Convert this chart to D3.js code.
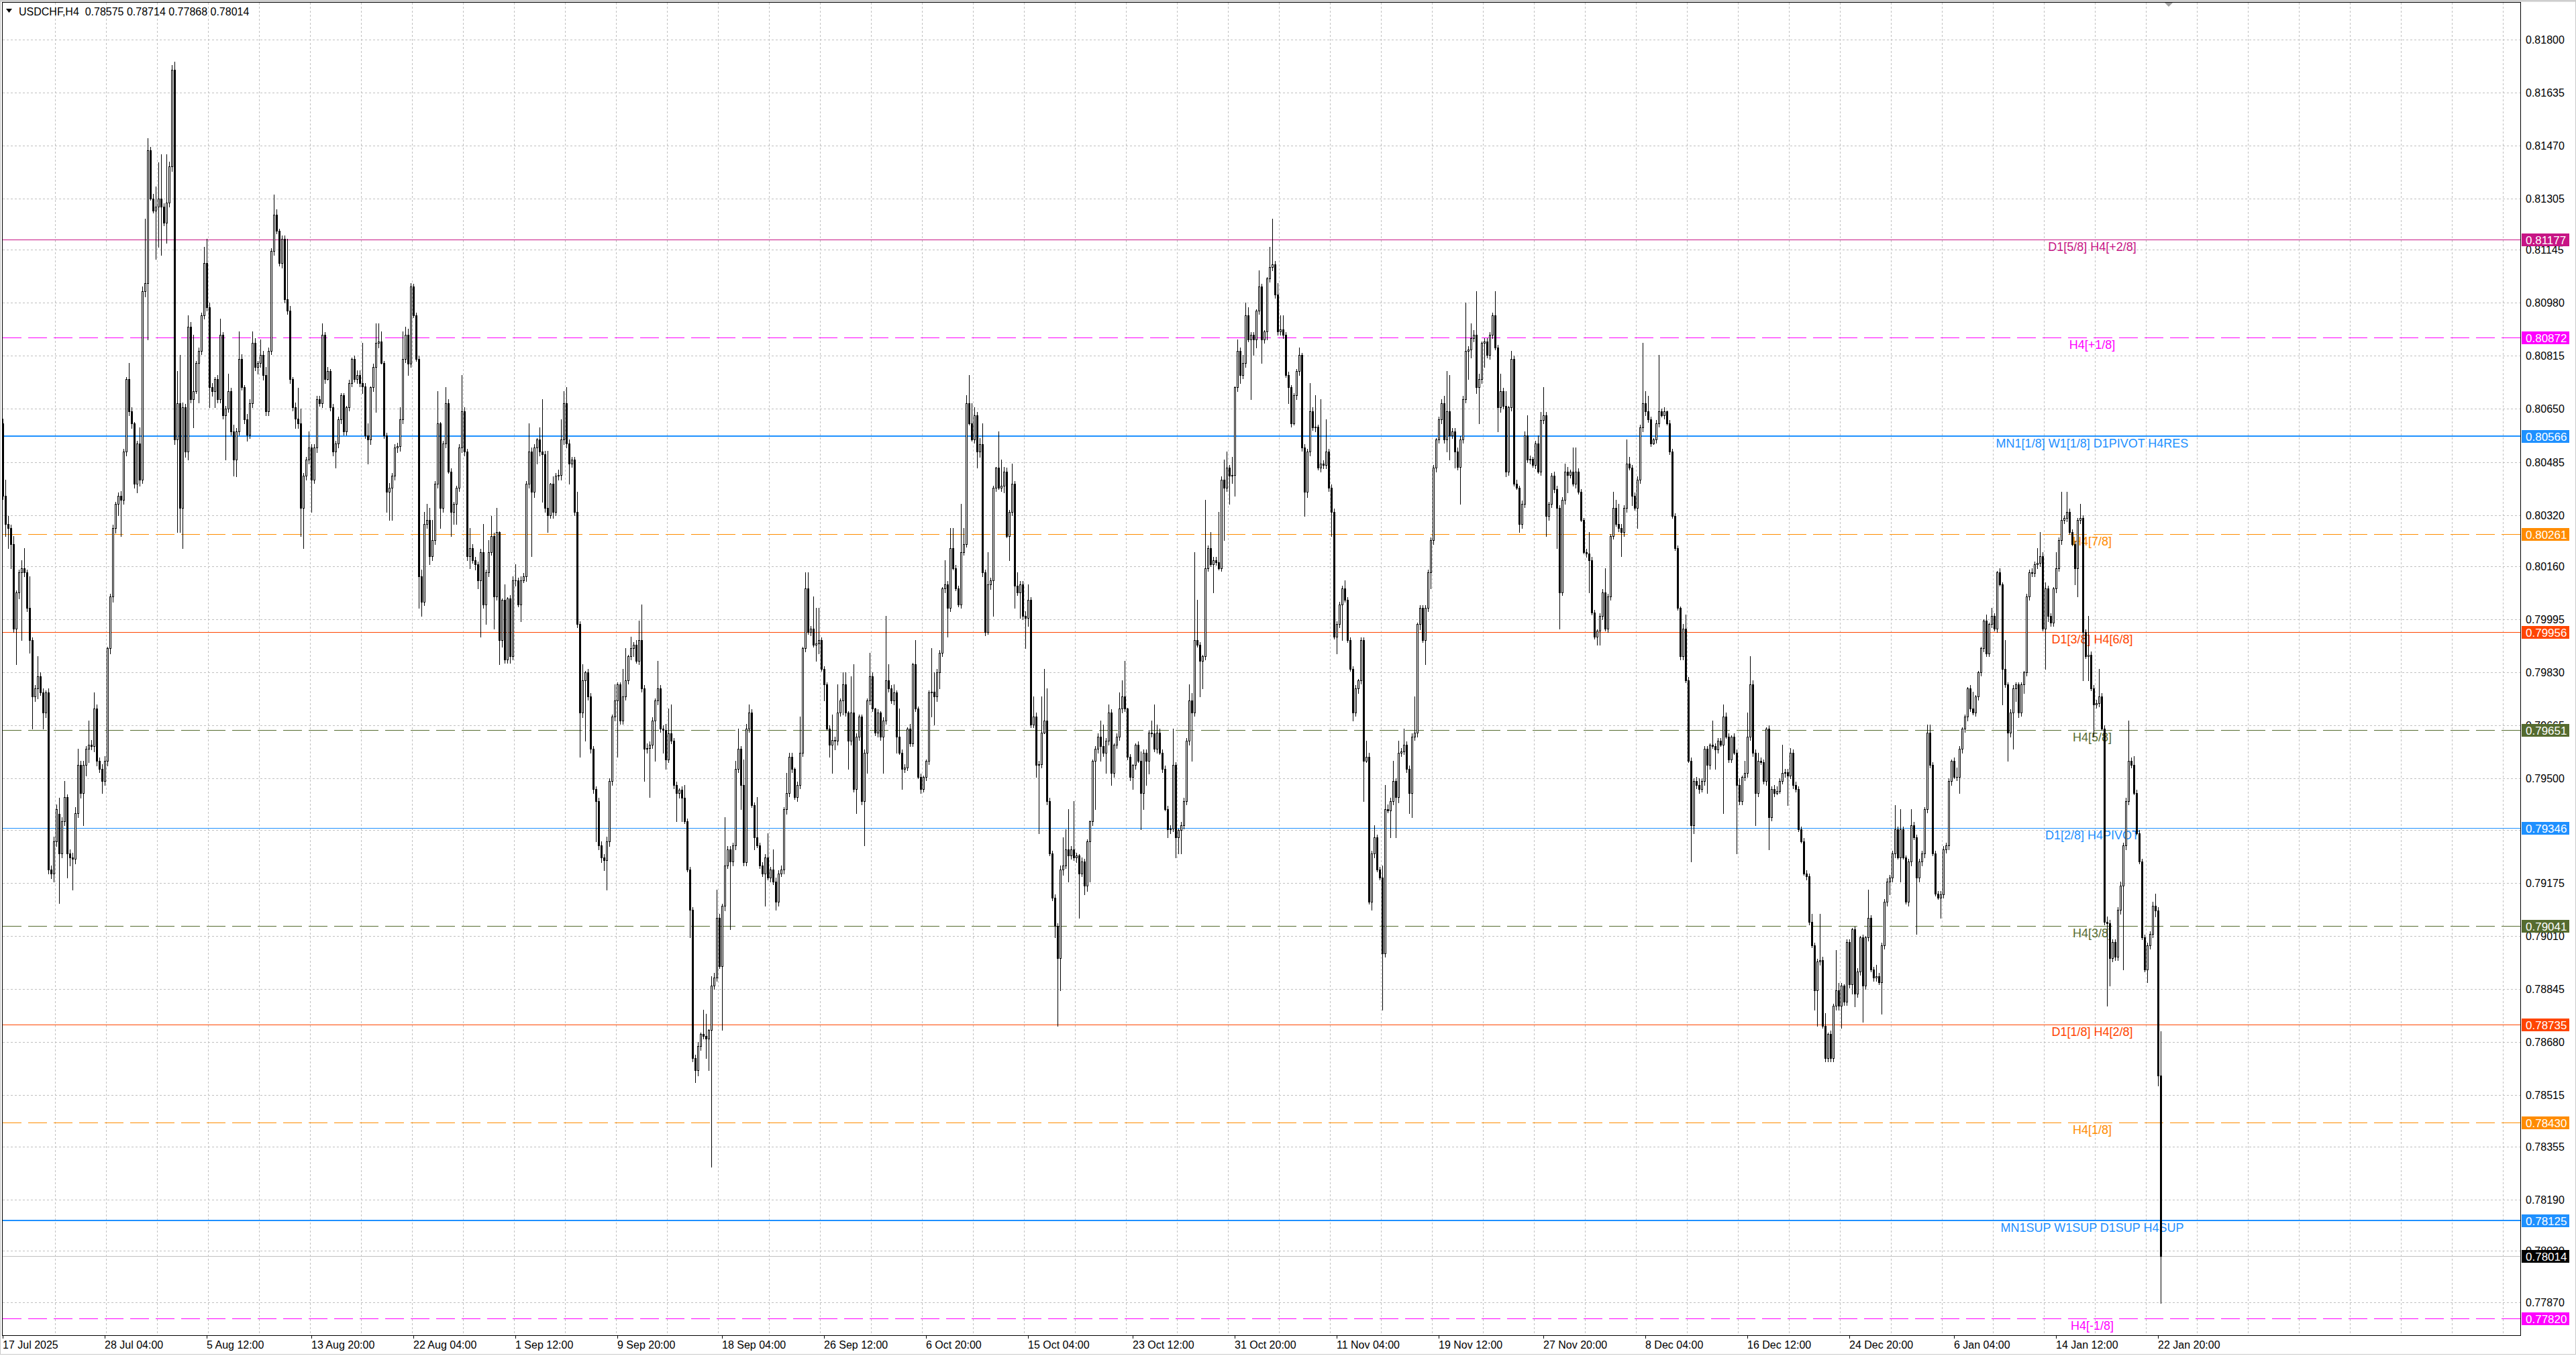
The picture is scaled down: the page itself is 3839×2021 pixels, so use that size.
<!DOCTYPE html>
<html>
<head>
<meta charset="utf-8">
<script src="https://cdn.jsdelivr.net/npm/d3@7"></script>
<style>
html, body { margin: 0; padding: 0; background: #fff; overflow: hidden; }
svg { display: block; }
text { font-family: "Liberation Sans", Arial, sans-serif; }
</style>
</head>
<body>
<svg id="chart"></svg>
<script>
// USDCHF H4 bars, [open, high, low, close] in points (price * 1e5)
let jul = [
[80605,80620,80370,80380],[80380,80430,80255,80292],[80292,80317,80217,80280],[80280,80290,80155,80230],[80230,80255,79955,79967],
[79967,80085,79855,80080],[80080,80150,80060,80142],[80142,80180,79930,80155],[80155,80217,80130,80142],[80142,80150,80020,80030],
[80030,80130,79892,79930],[79930,79940,79655,79755],[79755,79790,79740,79780],[79780,79880,79750,79817],[79817,79830,79760,79767],
[79767,79780,79655,79705],[79705,79775,79690,79767],[79767,79780,79205,79217],[79217,79230,79190,79205],[79205,79320,79180,79305],
[79305,79420,79290,79405],[79390,79440,79112,79267],[79267,79380,79255,79367],[79367,79492,79355,79442],[79442,79450,79192,79267],
[79267,79280,79230,79255],[79255,79270,79155,79250],[79250,79410,79235,79392],[79392,79592,79380,79542],[79542,79555,79440,79455],
[79455,79555,79355,79542],[79542,79600,79510,79592],[79592,79680,79550,79605],[79605,79620,79590,79600],[79600,79767,79585,79717],
[79717,79730,79540,79555],[79555,79565,79520,79530],[79530,79545,79455,79492],[79492,79570,79480,79555],[79555,79910,79540,79905],
[79905,80075,79890,80067],[80067,80290,80050,80280],[80280,80360,80265,80355],[80355,80390,80320,80380],[80380,80395,80255,80367],
[80367,80525,80355,80517],[80517,80750,80505,80742],[80742,80792,80630,80642],[80642,80655,80590,80605],[80605,80610,80405,80417],
[80417,80550,80390,80542],[80542,80592,80410,80430],[80430,81030,80420,81017],[81017,81242,81000,81042],[81042,81492,80867,81455],
[81455,81465,81300,81305],[81305,81320,81260,81267],[81267,81342,81117,81280],[81280,81417,81155,81305],[81305,81442,81130,81280],
[81280,81290,81220,81230],[81230,81442,81167,81292]
]
let aug = [
[81292,81420,81280,81405],[81405,81720,81390,81705],[81705,81730,80540,80555],[80555,80767,80267,80667],[80667,80817,80267,80342],
[80342,80670,80217,80655],[80655,80665,80500,80517],[80517,80942,80492,80905],[80905,80920,80670,80680],[80680,80880,80592,80705],
[80705,80800,80700,80792],[80792,80840,80670,80830],[80830,80950,80820,80942],[80942,81155,80930,81105],[81105,81180,80955,80967],
[80967,80980,80655,80717],[80717,80730,80690,80705],[80705,80750,80655,80742],[80742,80755,80670,80680],[80680,80930,80670,80880],
[80880,80890,80620,80630],[80630,80660,80492,80650],[80650,80760,80640,80705],[80705,80715,80570,80580],[80580,80600,80442,80492],
[80492,80590,80440,80580],[80580,80892,80570,80805],[80805,80820,80710,80717],[80717,80725,80605,80617],[80617,80635,80550,80570],
[80570,80680,80560,80667],[80667,80892,80655,80855],[80855,80870,80770,80780],[80780,80800,80760,80792],[80792,80867,80780,80817],
[80817,80830,80740,80755],[80755,80780,80630,80642],[80642,80840,80630,80830],[80830,81150,80820,81142],[81142,81317,81130,81255],
[81255,81270,81195,81205],[81205,81210,81095,81105],[81105,81190,81090,81180],[81180,81190,80980,80992],[80992,81180,80945,80955],
[80955,80970,80730,80742],[80742,80750,80645,80655],[80655,80670,80590,80620],[80620,80715,80590,80605],[80605,80650,80255,80342],
[80342,80450,80217,80442],[80442,80500,80430,80492],[80492,80580,80480,80530],[80530,80540,80330,80430],[80430,80540,80420,80530],
[80530,80690,80515,80680],[80680,80690,80660,80667],[80667,80917,80655,80880],[80880,80890,80730,80742],[80742,80780,80740,80767],
[80767,80775,80645,80655],[80655,80665,80505,80517],[80517,80550,80467,80542],[80542,80625,80530,80617],[80617,80700,80605,80692],
[80692,80700,80570,80580],[80580,80660,80570,80655],[80655,80740,80645,80730],[80730,80810,80720,80805],[80805,80815,80735,80742],
[80742,80770,80730,80755],[80755,80770,80720,80730],[80730,80855,80700,80720],[80720,80730,80560,80567],[80567,80605,80480,80555],
[80555,80720,80540,80717],[80717,80790,80705,80780],[80780,80917,80640,80855],[80855,80917,80840,80860],[80860,80892,80790,80792],
[80792,80800,80560,80567],[80567,80575,80330,80392],[80392,80420,80305,80405],[80405,80450,80305,80442],[80442,80540,80430,80530],
[80530,80545,80515,80535],[80535,80655,80520,80617],[80617,80892,80605,80805],[80805,80905,80795,80880],[80880,80900,80755,80790],
[80790,81042,80780,81030],[81030,81040,80935,80942],[80942,80950,80800,80805],[80805,80815,80030,80130],[80130,80150,80005,80050],
[80050,80330,80040,80292],[80292,80355,80280,80305],[80305,80342,80167,80192],[80192,80305,80180,80242],[80242,80425,80230,80417],
[80417,80705,80405,80605],[80605,80610,80280,80342],[80342,80550,80330,80542],[80542,80717,80530,80667],[80667,80680,80450,80455],
[80455,80465,80255,80330],[80330,80360,80292,80355],[80355,80410,80292,80405],[80405,80540,80395,80530],[80530,80755,80515,80642],
[80642,80655,80505,80517],[80517,80525,80180,80192],[80192,80280,80155,80217],[80217,80230,80170,80180],[80180,80190,80150,80167],
[80167,80175,80092,80117],[80117,80215,79942,80205],[80205,80292,80030,80042],[80042,80150,79980,80142],[80142,80242,80130,80205],
[80205,80317,80195,80255],[80255,80265,79967,80067],[80067,80342,80055,80267],[80267,80270,79855,79930],[79930,80060,79910,80055],
[80055,80105,79860,79870]
]
let sep = [
[79870,80065,79860,80060],[80060,80070,79860,79880],[79880,80130,79870,80117],[80117,80167,80100,80117],[80117,80125,80035,80042],
[80042,80130,79990,80117],[80117,80140,80110,80130],[80130,80425,80115,80417],[80417,80605,80405,80517],[80517,80530,80192,80392],
[80392,80540,80375,80530],[80530,80560,80480,80555],[80555,80592,80505,80517],[80517,80680,80360,80510],[80510,80520,80330,80342],
[80342,80520,80267,80320],[80320,80420,80310,80417],[80417,80440,80310,80330],[80330,80450,80320,80442],[80442,80460,80430,80445],
[80445,80617,80430,80555],[80555,80705,80540,80667],[80667,80717,80530,80542],[80542,80555,80417,80480],[80480,80500,80470,80492],
[80492,80500,80320,80330],[80330,80392,79970,79980],[79980,79990,79567,79705],[79705,79855,79690,79805],[79805,79835,79617,79830],
[79830,79840,79745,79755],[79755,79765,79580,79592],[79592,79600,79455,79467],[79467,79475,79305,79430],[79430,79440,79280,79292],
[79292,79305,79240,79255],[79255,79265,79215,79245],[79245,79320,79155,79305],[79305,79500,79290,79492],[79492,79700,79480,79692],
[79692,79792,79680,79742],[79742,79800,79567,79792],[79792,79800,79670,79680],[79680,79842,79670,79755],[79755,79905,79745,79805],
[79805,79885,79795,79880],[79880,79942,79870,79905],[79905,79925,79880,79917],[79917,79930,79860,79867],[79867,79992,79855,79930],
[79930,80042,79770,79780],[79780,79790,79492,79592],[79592,79610,79580,79595],[79595,79615,79442,79605],[79605,79690,79595,79680],
[79680,79750,79555,79742],[79742,79867,79730,79780],[79780,79790,79645,79655],[79655,79665,79580,79650],[79650,79670,79530,79560],
[79560,79717,79550,79640],[79640,79730,79610,79617],[79617,79625,79470,79480],[79480,79490,79367,79455],[79455,79470,79440,79465],
[79465,79475,79367,79440],[79440,79480,79360,79367],[79367,79375,79210,79217],[79217,79225,79005,79092],[79092,79100,78620,78630],
[78630,78640,78555,78592],[78592,78680,78575,78667],[78667,78710,78655,78705],[78705,78780,78690,78700],[78700,78767,78630,78690],
[78690,78720,78592,78717],[78717,78885,78292,78855],[78855,78895,78845,78880],[78880,79155,78870,79067],[79067,79080,78910,78917],
[78917,79110,78717,79105],[79105,79380,79090,79230],[79230,79290,79220,79280],[79280,79290,79030,79242],[79242,79300,79230,79292],
[79292,79555,79280,79530],[79530,79655,79520,79592],[79592,79600,79405,79480],[79480,79560,79230,79240],[79240,79670,79230,79655],
[79655,79730,79645,79705],[79705,79715,79410,79417],[79417,79425,79280,79317],[79317,79442,79285,79292],[79292,79300,79220,79230],
[79230,79240,79195,79205],[79205,79265,79105,79255],[79255,79330,79185,79192],[79192,79225,79180,79217],[79217,79280,79170,79180],
[79180,79192,79092,79117],[79117,79215,79105,79205],[79205,79230,79195,79217],[79217,79410,79205,79405],[79405,79517,79390,79455],
[79455,79580,79445,79567],[79567,79580,79520,79530],[79530,79535,79435,79442],[79442,79490,79430,79480],[79480,79692,79470,79580],
[79580,79910,79570,79905],[79905,80142,79895,80092],[80092,80142,79950,79955],[79955,79975,79945,79967],[79967,80067,79910,79917],
[79917,80030,79867,79920],[79920,80030,79890,79930],[79930,79940,79835,79842],[79842,79850,79742,79792],[79792,79800,79650,79655],
[79655,79665,79567,79605],[79605,79700,79517,79620],[79620,79630,79590,79617],[79617,79792,79605,79705],[79705,79750,79695,79742],
[79742,79830,79700,79792],[79792,79830,79695,79705],[79705,79710,79530,79617],[79617,79817,79605,79705],[79705,79855,79460,79467],
[79467,79640,79392,79630],[79630,79700,79620,79692]
]
let oct = [
[79692,79700,79420,79430],[79430,79590,79292,79580],[79580,79750,79517,79742],[79742,79892,79730,79817],[79817,79830,79710,79717],
[79717,79720,79635,79642],[79642,79715,79630,79705],[79705,79710,79620,79630],[79630,79690,79517,79680],[79680,80005,79670,79805],
[79805,79855,79770,79780],[79780,79790,79735,79742],[79742,79792,79730,79767],[79767,79775,79580,79630],[79630,79717,79575,79580],
[79580,79590,79467,79530],[79530,79545,79520,79535],[79535,79660,79525,79655],[79655,79670,79600,79610],[79610,79860,79600,79855],
[79855,79930,79710,79717],[79717,79725,79500,79505],[79505,79515,79455,79467],[79467,79510,79460,79505],[79505,79560,79495,79555],
[79555,79775,79545,79767],[79767,79905,79692,79770],[79770,79830,79667,79755],[79755,79840,79740,79830],[79830,79900,79780,79892],
[79892,80095,79880,80092],[80092,80180,80080,80105],[80105,80115,79942,80030],[80030,80280,80020,80217],[80217,80280,80150,80155],
[80155,80165,80085,80092],[80092,80100,80035,80042],[80042,80355,80030,80205],[80205,80280,80195,80230],[80230,80692,80220,80667],
[80667,80755,80600,80605],[80605,80667,80550,80555],[80555,80655,80545,80630],[80630,80640,80467,80517],[80517,80560,80500,80540],
[80540,80605,80130,80142],[80142,80150,79945,79955],[79955,80205,79950,80105],[80105,80125,80090,80117],[80117,80410,80005,80405],
[80405,80470,80395,80467],[80467,80580,80400,80405],[80405,80492,80395,80410],[80410,80470,80390,80455],[80455,80467,80250,80255],
[80255,80335,80180,80330],[80330,80480,80320,80417],[80417,80425,80030,80100],[80100,80142,80070,80080],[80080,80115,80000,80105],
[80105,80115,79995,80005],[80005,80020,79905,80000],[80000,80105,79975,80055],[80055,80065,79660,79667],[79667,79755,79660,79692],
[79692,79705,79505,79542],[79542,79555,79330,79545],[79545,79755,79535,79642],[79642,79842,79640,79680],[79680,79780,79420,79430],
[79430,79440,79260,79267],[79267,79275,79120,79130],[79130,79140,79005,79042],[79042,79050,78730,78942],[78942,79230,78842,79217],
[79217,79317,79200,79230],[79230,79342,79220,79280],[79280,79405,79180,79260],[79260,79290,79250,79280],[79280,79430,79245,79255],
[79255,79270,79240,79260],[79260,79265,79067,79205],[79205,79255,79195,79242],[79242,79250,79140,79167],[79167,79310,79150,79305],
[79305,79370,79180,79367],[79367,79560,79355,79555],[79555,79600,79405,79592],[79592,79640,79580,79630],[79630,79680,79555,79600],
[79600,79667,79570,79580],[79580,79625,79517,79617],[79617,79730,79605,79705],[79705,79715,79480,79517],[79517,79610,79505,79605],
[79605,79640,79595,79630],[79630,79767,79620,79717],[79717,79805,79705,79755],[79755,79867,79710,79717],[79717,79720,79560,79567],
[79567,79575,79495,79505],[79505,79545,79467,79542],[79542,79610,79530,79605],[79605,79615,79550,79555],[79555,79585,79342,79455],
[79455,79590,79405,79580],[79580,79590,79480,79555],[79555,79650,79515,79642],[79642,79680,79630,79640],[79640,79730,79585,79592],
[79592,79667,79580,79642],[79642,79655,79575,79580],[79580,79590,79520,79530],[79530,79540,79400,79405],[79405,79415,79317,79342],
[79342,79355,79330,79345],[79345,79655,79335,79542],[79542,79550,79255,79317],[79317,79345,79267,79340],[79340,79365,79267,79355],
[79355,79440,79345,79430],[79430,79625,79420,79617],[79617,79792,79605,79742],[79742,79765,79555,79705],[79705,80205,79695,79930],
[79930,80055,79910,79917],[79917,79925,79755,79867],[79867,79885,79780,79880],[79880,80367,79870,80155],[80155,80225,80145,80217],
[80217,80267,80160,80167],[80167,80190,80080,80180],[80180,80190,80165,80172],[80172,80330,80150,80155],[80155,80440,80145,80430],
[80430,80492,80242,80405],[80405,80517,80395,80467],[80467,80475,80355,80442]
]
let nov = [
[80442,80500,80420,80445],[80445,80720,80380,80717],[80717,80867,80705,80830],[80830,80840,80730,80755],[80755,80817,80745,80792],
[80792,80980,80780,80942],[80942,80967,80860,80867],[80867,80890,80680,80880],[80880,80890,80817,80867],[80867,80960,80840,80955],
[80955,81080,80945,81030],[81030,81040,80792,80867],[80867,80895,80855,80892],[80892,81060,80867,81055],[81055,81155,81045,81092],
[81092,81242,81080,81100],[81100,81110,80995,81005],[81005,81042,80880,80892],[80892,80942,80880,80897],[80897,80942,80870,80880],
[80880,80890,80750,80755],[80755,80765,80667,80717],[80717,80725,80595,80605],[80605,80700,80600,80692],[80692,80775,80680,80767],
[80767,80842,80755,80817],[80817,80825,80520,80530],[80530,80540,80317,80392],[80392,80525,80375,80517],[80517,80730,80505,80642],
[80642,80655,80585,80592],[80592,80692,80580,80595],[80595,80600,80460,80467],[80467,80680,80455,80480],[80480,80490,80465,80475],
[80475,80617,80465,80517],[80517,80525,80395,80405],[80405,80415,80255,80330],[80330,80340,79935,79942],[79942,79990,79890,79980],
[79980,80050,79970,80042],[80042,80100,79930,80092],[80092,80117,80050,80055],[80055,80065,79925,79930],[79930,79940,79835,79842],
[79842,79850,79680,79705],[79705,79790,79695,79780],[79780,79810,79765,79805],[79805,79940,79795,79930],[79930,79940,79430,79555],
[79555,79617,79550,79567],[79567,79580,79110,79117],[79117,79275,79092,79267],[79267,79355,79255,79317],[79317,79325,79210,79217],
[79217,79225,79185,79192],[79192,79230,78780,78955],[78955,79480,78945,79405],[79405,79420,79395,79400],[79400,79440,79317,79430],
[79430,79555,79420,79492],[79492,79500,79317,79442],[79442,79617,79425,79580],[79580,79595,79570,79585],[79585,79655,79575,79605],
[79605,79615,79520,79530],[79530,79540,79392,79455],[79455,79640,79380,79630],[79630,79755,79620,79642],[79642,79985,79630,79980],
[79980,80040,79965,80030],[80030,80040,79925,79930],[79930,80040,79855,80030],[80030,80150,80020,80142],[80142,80250,80092,80242],
[80242,80475,80230,80467],[80467,80560,80455,80555],[80555,80625,80545,80617],[80617,80680,80605,80667],[80667,80690,80545,80555],
[80555,80767,80517,80642],[80642,80755,80492,80567],[80567,80590,80560,80580],[80580,80590,80467,80517],[80517,80530,80460,80470],
[80470,80565,80355,80555],[80555,80690,80545,80680],[80680,80980,80670,80830],[80830,80845,80742,80835],[80835,80917,80810,80870],
[80870,80895,80860,80880],[80880,81017,80700,80717],[80717,80760,80605,80742],[80742,80860,80730,80855],[80855,80870,80780,80860],
[80860,80870,80810,80817],[80817,80890,80805,80880],[80880,80950,80870,80942],[80942,81017,80835,80842],[80842,80850,80580,80655],
[80655,80760,80640,80705],[80705,80715,80650,80660],[80660,80705,80440,80455],[80455,80660,80445,80655],[80655,80830,80645,80805],
[80805,80815,80410,80417],[80417,80430,80400,80405],[80405,80410,80267,80292],[80292,80365,80280,80355],[80355,80580,80345,80567],
[80567,80630,80485,80492],[80492,80505,80480,80495],[80495,80500,80470,80475],[80475,80550,80465,80542],[80542,80567,80450,80455],
[80455,80640,80445,80615],[80615,80717,80605,80630],[80630,80640,80255,80317],[80317,80360,80305,80355],[80355,80450,80345,80442]
]
let dec = [
[80442,80455,80390,80400],[80400,80410,80217,80342],[80342,80350,79967,80080],[80080,80375,80070,80367],[80367,80480,80355,80455],
[80455,80470,80390,80445],[80445,80460,80435,80455],[80455,80530,80410,80417],[80417,80530,80405,80455],[80455,80465,80385,80392],
[80392,80400,80300,80305],[80305,80310,80200,80205],[80205,80215,80190,80200],[80200,80267,80080,80180],[80180,80190,80010,80017],
[80017,80025,79935,79942],[79942,79965,79917,79960],[79960,80015,79917,80005],[80005,80090,79995,80080],[80080,80155,79960,79967],
[79967,80075,79955,80067],[80067,80260,80055,80255],[80255,80392,80245,80342],[80342,80367,80285,80292],[80292,80355,80270,80280],
[80280,80292,80192,80267],[80267,80350,80255,80342],[80342,80555,80330,80480],[80480,80500,80460,80467],[80467,80475,80350,80380],
[80380,80390,80335,80342],[80342,80440,80280,80430],[80430,80600,80420,80592],[80592,80855,80580,80667],[80667,80705,80630,80642],
[80642,80690,80610,80617],[80617,80625,80535,80542],[80542,80560,80540,80555],[80555,80615,80545,80605],[80605,80817,80595,80642],
[80642,80650,80625,80630],[80630,80655,80620,80642],[80642,80645,80600,80605],[80605,80615,80510,80517],[80517,80525,80310,80317],
[80317,80325,80210,80217],[80217,80225,80025,80030],[80030,80035,79870,79880],[79880,79980,79870,79967],[79967,80010,79800,79805],
[79805,79815,79550,79555],[79555,79565,79242,79355],[79355,79500,79330,79492],[79492,79505,79470,79480],[79480,79500,79455,79467],
[79467,79500,79460,79492],[79492,79600,79480,79592],[79592,79600,79455,79542],[79542,79610,79530,79605],[79605,79680,79595,79600],
[79600,79610,79530,79590],[79590,79625,79580,79617],[79617,79625,79600,79605],[79605,79730,79392,79692],[79692,79705,79625,79630],
[79630,79640,79550,79560],[79560,79635,79550,79630],[79630,79640,79575,79580],[79580,79590,79267,79480],[79480,79500,79420,79430],
[79430,79510,79420,79505],[79505,79555,79495,79517],[79517,79705,79505,79630],[79630,79880,79620,79792],[79792,79805,79570,79580],
[79580,79590,79355,79455],[79455,79580,79445,79555],[79555,79565,79545,79550],[79550,79560,79485,79492],[79492,79660,79480,79655],
[79655,79665,79280,79380],[79380,79475,79370,79467],[79467,79480,79445,79455],[79455,79475,79450,79462],[79462,79500,79455,79492],
[79492,79605,79485,79517],[79517,79530,79505,79520],[79520,79530,79417,79510],[79510,79595,79500,79580],[79580,79590,79470,79480],
[79480,79490,79460,79467],[79467,79475,79335,79342],[79342,79350,79300,79305],[79305,79315,79200,79205],[79205,79215,79185,79195],
[79195,79205,79045,79055],[79055,79080,78975,78980],[78980,78990,78780,78842],[78842,78940,78730,78930],[78930,79080,78920,78935],
[78935,78945,78725,78730],[78730,78770,78620,78630],[78630,78710,78620,78705],[78705,78715,78620,78630],[78630,78800,78620,78792],
[78792,78967,78780,78842],[78842,78865,78780,78792],[78792,78865,78725,78855],[78855,78860,78795,78805],[78805,79000,78795,78992],
[78992,79000,78850,78860],[78860,79035,78830,79030],[79030,79040,78790,78830],[78830,78910,78820,78900],[78900,79010,78890,79005],
[79005,79015,78742,78855],[78855,79010,78845,79005],[79005,79155,78995,79067],[79067,79075,78900,78905],[78905,78915,78870,78880],
[78880,78920,78870,78885],[78885,78895,78860,78867],[78867,78990,78767,78980],[78980,79125,78970,79117],[79117,79190,79105,79180],
[79180,79200,79140,79192],[79192,79275,79180,79267],[79267,79417,79255,79342],[79342,79350,79250,79255],[79255,79405,79180,79342],
[79342,79350,79250,79255],[79255,79260,79110,79117]
]
let jan = [
[79117,79250,79105,79242],[79242,79405,79230,79355],[79355,79365,79310,79317],[79317,79325,79017,79192],[79192,79250,79180,79242],
[79242,79275,79230,79267],[79267,79410,79255,79405],[79405,79667,79395,79642],[79642,79667,79535,79542],[79542,79550,79260,79267],
[79267,79275,79135,79142],[79142,79150,79125,79130],[79130,79150,79067,79140],[79140,79290,79130,79280],[79280,79300,79270,79292],
[79292,79500,79280,79492],[79492,79560,79480,79555],[79555,79565,79500,79505],[79505,79535,79495,79505],[79505,79600,79455,79592],
[79592,79660,79580,79655],[79655,79700,79645,79692],[79692,79785,79680,79780],[79780,79790,79710,79717],[79717,79770,79700,79705],
[79705,79760,79695,79755],[79755,79835,79745,79830],[79830,79910,79820,79905],[79905,79995,79895,79992],[79992,80010,79880,79890],
[79890,79985,79880,79980],[79980,80030,79970,80005],[80005,80015,79960,79967],[79967,80145,79955,80142],[80142,80155,80100,80105],
[80105,80110,79730,79842],[79842,79930,79785,79792],[79792,79800,79555,79642],[79642,79715,79630,79705],[79705,79790,79592,79780],
[79780,79800,79740,79792],[79792,79800,79690,79705],[79705,79800,79695,79792],[79792,79835,79765,79830],[79830,80075,79820,80067],
[80067,80150,80055,80142],[80142,80155,80130,80140],[80140,80175,80130,80167],[80167,80217,80155,80170],[80170,80267,80160,80192],
[80192,80205,79960,79967],[79967,80110,79842,80092],[80092,80100,79990,80005],[80005,80015,79975,79985],[79985,80095,79975,80092],
[80092,80205,80080,80155],[80155,80250,80145,80242],[80242,80392,80230,80305],[80305,80320,80295,80310],[80310,80392,80300,80330],
[80330,80340,80260,80267],[80267,80275,80225,80230],[80230,80240,80105,80155],[80155,80310,80067,80305],[80305,80355,80295,80310],
[80310,80320,79805,79955],[79955,79965,79875,79880],[79880,80005,79805,79885],[79885,79895,79775,79780],[79780,79790,79630,79730],
[79730,79745,79720,79735],[79735,79842,79725,79755],[79755,79765,79650,79655],[79655,79665,79045,79055],[79055,79070,78792,79050],
[79050,79060,78855,78942],[78942,79000,78930,78992],[78992,79000,78935,78945],[78945,79100,78935,79092],[79092,79180,79080,79167],
[79167,79300,78905,79292],[79292,79440,79280,79430],[79430,79680,79420,79555],[79555,79565,79535,79542],[79542,79570,79450,79455],
[79455,79465,79325,79330],[79330,79340,79235,79242],[79242,79250,79000,79005],[79005,79015,78900,78905],[78905,78990,78867,78980],
[78980,79025,78970,79017],[79017,79117,79005,79105],[79105,79142,79070,79090],[79090,79100,78544,78575],[78575,78714,77868,78014]
]

let priceTicks = [0.818, 0.81635, 0.8147, 0.81305, 0.81145, 0.8098, 0.80815, 0.8065, 0.80485, 0.8032, 0.8016,
    0.79995, 0.7983, 0.79665, 0.795, 0.7934, 0.79175, 0.7901, 0.78845, 0.7868, 0.78515, 0.78355, 0.7819, 0.7803, 0.7787]
let dateLabels = ['17 Jul 2025', '28 Jul 04:00', '5 Aug 12:00', '13 Aug 20:00', '22 Aug 04:00', '1 Sep 12:00', '9 Sep 20:00',
    '18 Sep 04:00', '26 Sep 12:00', '6 Oct 20:00', '15 Oct 04:00', '23 Oct 12:00', '31 Oct 20:00', '11 Nov 04:00',
    '19 Nov 12:00', '27 Nov 20:00', '8 Dec 04:00', '16 Dec 12:00', '24 Dec 20:00', '6 Jan 04:00', '14 Jan 12:00', '22 Jan 20:00']
let dateBars = [0, 38, 76, 115, 153, 191, 229, 268, 306, 344, 382, 421, 459, 497, 535, 574, 612, 650, 688, 727, 765, 803]
let levelPrices = [0.81177, 0.80872, 0.80566, 0.80261, 0.79956, 0.79651, 0.79346, 0.79041, 0.78735, 0.7843, 0.78125, 0.7782]
let levelNames = ['D1[5/8] H4[+2/8]', 'H4[+1/8]', 'MN1[1/8] W1[1/8] D1PIVOT H4RES', 'H4[7/8]', 'D1[3/8] H4[6/8]', 'H4[5/8]',
    'D1[2/8] H4PIVOT', 'H4[3/8]', 'D1[1/8] H4[2/8]', 'H4[1/8]', 'MN1SUP W1SUP D1SUP H4SUP', 'H4[-1/8]']
let bidPrice = 0.78014
let headerText = 'USDCHF,H4  0.78575 0.78714 0.77868 0.78014'

// look of each level line, same order as levelPrices
let levelPaint = [
    { color: '#C71585', dash: null, w: 1 },
    { color: '#FF00FF', dash: '28,10', w: 1 },
    { color: '#1E90FF', dash: null, w: 2 },
    { color: '#FF8C00', dash: '28,10', w: 1 },
    { color: '#FF4500', dash: null, w: 1 },
    { color: '#556B2F', dash: '28,10', w: 1 },
    { color: '#1E90FF', dash: null, w: 1 },
    { color: '#556B2F', dash: '28,10', w: 1 },
    { color: '#FF4500', dash: null, w: 1 },
    { color: '#FF8C00', dash: '28,10', w: 1 },
    { color: '#1E90FF', dash: null, w: 2 },
    { color: '#FF00FF', dash: '28,10', w: 1 }
]

let width = 3839
let height = 2021
let plotLeft = 4, plotRight = 3756, plotTop = 4, plotBottom = 1990
let barStep = 4
let gridStep = 19
let labelX = plotRight - 638

let bars = [].concat(jul, aug, sep, oct, nov, dec, jan).map(b => b.map(v => v / 1e5))

let svg = d3.select('#chart')
    .attr('width', width)
    .attr('height', height)
    .attr('viewBox', [0, 0, width, height])

let x = d3.scaleLinear()
    .domain([0, bars.length - 1])
    .range([plotLeft, plotLeft + barStep * (bars.length - 1)])
let y = d3.scaleLinear()
    .domain([0.77768, 0.81914])
    .range([plotBottom, plotTop])
let py = p => Math.round(y(p))

svg.append('rect').attr('width', width).attr('height', height).attr('fill', '#fff')
svg.append('rect').attr('width', width).attr('height', 3).attr('fill', '#D8D8D8')
svg.append('rect')
    .attr('x', 0.5).attr('y', 0.5)
    .attr('width', width - 1).attr('height', 2018)
    .attr('fill', 'none').attr('stroke', '#C8C8C8')

// grid
let grid = svg.append('g')
    .attr('stroke', '#C0C0C0')
    .attr('stroke-dasharray', '3,3')
    .attr('shape-rendering', 'crispEdges')
grid.selectAll('.hg')
    .data(priceTicks).enter()
    .append('line')
    .attr('x1', plotLeft).attr('x2', plotRight)
    .attr('y1', d => py(d) + 0.5).attr('y2', d => py(d) + 0.5)
let vgrid = d3.range(gridStep + 0.5, (plotRight - plotLeft) / barStep, gridStep)
grid.selectAll('.vg')
    .data(vgrid).enter()
    .append('line')
    .attr('x1', d => Math.round(x(d)) + 0.5).attr('x2', d => Math.round(x(d)) + 0.5)
    .attr('y1', plotTop).attr('y2', plotBottom)

// level lines and their names
let levels = levelPrices.map((p, i) => ({ p, name: levelNames[i], paint: levelPaint[i] }))
svg.append('g').attr('shape-rendering', 'crispEdges')
    .selectAll('line')
    .data(levels).enter()
    .append('line')
    .attr('x1', plotLeft).attr('x2', plotRight)
    .attr('y1', d => py(d.p) + (d.paint.w === 1 ? 0.5 : 0))
    .attr('y2', d => py(d.p) + (d.paint.w === 1 ? 0.5 : 0))
    .attr('stroke', d => d.paint.color)
    .attr('stroke-width', d => d.paint.w)
    .attr('stroke-dasharray', d => d.paint.dash)
svg.append('line')
    .attr('x1', plotLeft).attr('x2', plotRight)
    .attr('y1', py(bidPrice) + 0.5).attr('y2', py(bidPrice) + 0.5)
    .attr('stroke', '#C0C0C0')
    .attr('shape-rendering', 'crispEdges')
svg.append('g')
    .selectAll('text')
    .data(levels).enter()
    .append('text')
    .attr('x', labelX)
    .attr('y', d => py(d.p) + 17)
    .attr('text-anchor', 'middle')
    .attr('font-size', 18)
    .attr('fill', d => d.paint.color)
    .text(d => d.name)

// candles
let candles = svg.append('g').attr('shape-rendering', 'crispEdges')
bars.forEach((b, i) => {
    let [o, h, l, c] = b
    let cx = Math.round(x(i))
    let g = candles.append('g')
    let hy = py(h), ly = py(l)
    g.append('rect').attr('x', cx).attr('y', hy).attr('width', 1).attr('height', Math.max(1, ly - hy + 1)).attr('fill', '#000')
    let bt = py(Math.max(o, c)), bb = py(Math.min(o, c))
    g.append('rect').attr('x', cx - 1).attr('y', bt).attr('width', 3).attr('height', Math.max(1, bb - bt + 1)).attr('fill', '#000')
    if (c > o && bb - bt > 1) {
        g.append('rect').attr('x', cx).attr('y', bt + 1).attr('width', 1).attr('height', bb - bt - 1).attr('fill', '#fff')
    }
})

// plot frame
svg.append('rect')
    .attr('x', plotLeft - 0.5).attr('y', plotTop - 0.5)
    .attr('width', plotRight - plotLeft + 1).attr('height', plotBottom - plotTop + 1)
    .attr('fill', 'none').attr('stroke', '#000')
    .attr('shape-rendering', 'crispEdges')

// price scale
svg.append('g')
    .selectAll('text')
    .data(priceTicks).enter()
    .append('text')
    .attr('x', plotRight + 8)
    .attr('y', d => py(d) + 6)
    .attr('font-size', 16)
    .attr('fill', '#000')
    .text(d => d.toFixed(5))

let tags = levels.map(d => ({ p: d.p, color: d.paint.color }))
tags.push({ p: bidPrice, color: '#000' })
let tag = svg.append('g').selectAll('g')
    .data(tags).enter()
    .append('g')
tag.append('rect')
    .attr('x', plotRight + 2).attr('y', d => py(d.p) - 9)
    .attr('width', 71).attr('height', 19)
    .attr('fill', d => d.color)
tag.append('text')
    .attr('x', plotRight + 8)
    .attr('y', d => py(d.p) + 7)
    .attr('font-size', 17)
    .attr('fill', '#fff')
    .text(d => d.p.toFixed(5))

// time scale
let dates = dateBars.map((b, i) => ({ b, label: dateLabels[i] }))
svg.append('g').selectAll('line')
    .data(dates).enter()
    .append('line')
    .attr('x1', d => Math.round(x(d.b)) + 0.5).attr('x2', d => Math.round(x(d.b)) + 0.5)
    .attr('y1', plotBottom).attr('y2', plotBottom + 5)
    .attr('stroke', '#000')
    .attr('shape-rendering', 'crispEdges')
svg.append('g').selectAll('text')
    .data(dates).enter()
    .append('text')
    .attr('x', d => Math.round(x(d.b)))
    .attr('y', plotBottom + 20)
    .attr('font-size', 16)
    .attr('fill', '#000')
    .text(d => d.label)

// header and chart shift marker
svg.append('path')
    .attr('d', d3.line()([[9, 13], [18, 13], [13.5, 19]]) + 'Z')
    .attr('fill', '#000')
svg.append('text')
    .attr('x', 28).attr('y', 23)
    .attr('font-size', 16)
    .attr('fill', '#000')
    .style('white-space', 'pre')
    .text(headerText)
let lastX = x(bars.length - 1)
svg.append('path')
    .attr('d', d3.line()([[lastX + 6, plotTop], [lastX + 18, plotTop], [lastX + 12, plotTop + 6]]) + 'Z')
    .attr('fill', '#A0A0A0')
</script>
</body>
</html>
